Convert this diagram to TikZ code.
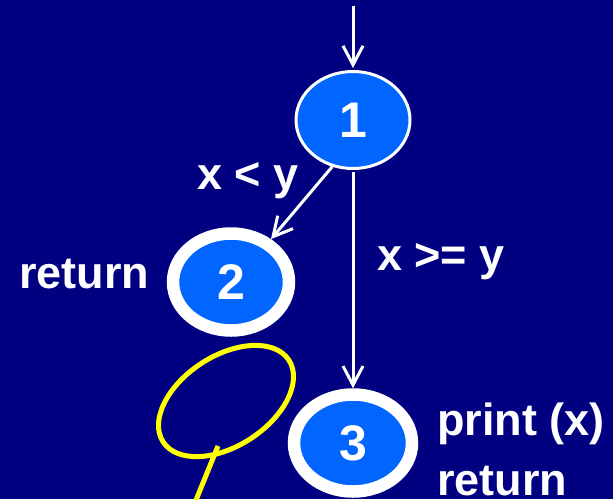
\documentclass[tikz,border=0pt]{standalone}
\usepackage{fontspec}
\setmainfont{Liberation Sans}
\usetikzlibrary{shapes.geometric,arrows.meta}
\definecolor{navybg}{HTML}{000080}
\definecolor{nodeblue}{HTML}{0066FF}
\definecolor{hlyellow}{HTML}{FFFF00}
\tikzset{
  thinnode/.style={ellipse, draw=white, fill=nodeblue, line width=3pt, inner sep=0pt,
    minimum width=114pt, minimum height=97pt, text=white,
    font=\bfseries\fontsize{50}{60}\selectfont},
  ringnode/.style={ellipse, draw=white, fill=nodeblue, line width=12.5pt, inner sep=0pt,
    minimum width=116pt, minimum height=97pt, text=white,
    font=\bfseries\fontsize{50}{60}\selectfont},
  lbl/.style={anchor=base west, inner sep=0pt, text=white,
    font=\bfseries\fontsize{45}{60}\selectfont},
  flow/.style={draw=white, line width=3pt, -{Straight Barb[length=19pt,width=20pt]}},
  yellowmark/.style={draw=hlyellow, line width=5pt}
}
\begin{document}
\begin{tikzpicture}[x=1pt,y=-1pt]
\fill[navybg] (0,0) rectangle (613,499);
\useasboundingbox (0,0) rectangle (613,499);
\clip (0,0) rectangle (613,499);

\node[thinnode] (n1) at (353,120) {1};
\node[ringnode] (n2) at (231,282) {2};
\node[ringnode, minimum width=118pt] (n3) at (353,443) {3};

\coordinate (entry) at (353,6);
\draw[flow] (entry) -- ([yshift=2pt]n1.north);
\draw[flow] (n1.246) -- (n2.47);
\draw[flow] ([yshift=-2pt]n1.south) -- (n3.north);

\node[lbl] (lxy) at (197,189) {x < y};
\node[lbl] (lxgy) at (377,270) {x >= y};
\node[lbl] (lret2) at (19,288) {return};
\node[lbl] (lprint) at (437,435) {print (x)};
\node[lbl] (lret3) at (437,495) {return};

\node[ellipse, rotate=33, yellowmark, minimum width=150pt, minimum height=90pt, inner sep=0pt] (ymark) at (226,401) {};
\coordinate (ytailA) at (218,446);
\coordinate (ytailB) at (194,505);
\draw[yellowmark] (ytailA) -- (ytailB);
\end{tikzpicture}
\end{document}
